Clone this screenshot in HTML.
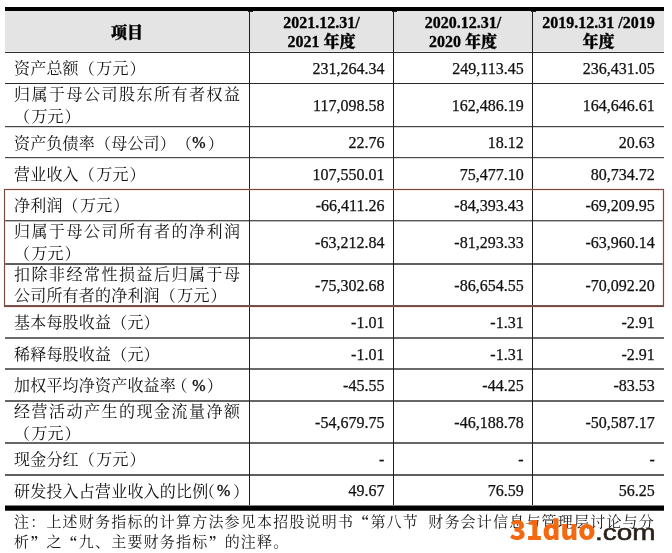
<!DOCTYPE html>
<html lang="zh-CN">
<head>
<meta charset="utf-8">
<style>
html,body{margin:0;padding:0;background:#fff;}
body{width:672px;height:553px;position:relative;overflow:hidden;text-spacing-trim:space-all;
  font-family:"Liberation Serif","Noto Serif CJK SC",serif;color:#111;}
div{position:absolute;}
.t{white-space:nowrap;font-size:16px;line-height:21.5px;}
.c{left:14px;letter-spacing:0.2px;}
.n{text-align:right;width:130px;-webkit-text-stroke:0.25px #111;}
.h{font-weight:900;font-size:16px;line-height:19.6px;text-align:center;white-space:nowrap;-webkit-text-stroke:0.3px #000;color:#000;}
.j{letter-spacing:1.5px;}
.note{left:14px;font-size:15px;line-height:19.5px;white-space:nowrap;color:#1a1a1a;}
.q{font-family:"Noto Serif CJK SC",serif;font-feature-settings:"fwid" 1;position:relative;top:1.5px;font-weight:bold;}
.pc{position:relative;top:-0.8px;-webkit-text-stroke:0.35px #111;}
.wm{font-family:"Liberation Sans",sans-serif;font-weight:bold;white-space:nowrap;}
</style>
</head>
<body>

<div style="left:5px;top:11px;width:659px;height:40px;background:#e4e4e4;"></div>
<div style="left:5px;top:51px;width:659px;height:1px;background:#efefef;"></div>
<div style="left:5px;top:7px;width:659px;height:4px;background:#000;"></div>
<div style="left:5px;top:505px;width:659px;height:1px;background:#808080;"></div>
<div style="left:5px;top:506px;width:659px;height:4px;background:#000;"></div>
<div style="left:5px;top:510px;width:659px;height:1px;background:#404040;"></div>
<div style="left:5px;top:52px;width:659px;height:1px;background:#2c2c2c;"></div>
<div style="left:5px;top:83px;width:659px;height:1px;background:#2a2a2a;"></div>
<div style="left:5px;top:126px;width:659px;height:1px;background:#444;"></div>
<div style="left:5px;top:127px;width:659px;height:1px;background:#d8d8d8;"></div>
<div style="left:5px;top:157px;width:659px;height:1px;background:#4a4a4a;"></div>
<div style="left:5px;top:158px;width:659px;height:1px;background:#d8d8d8;"></div>
<div style="left:5px;top:220px;width:659px;height:1px;background:#555;"></div>
<div style="left:5px;top:221px;width:659px;height:1px;background:#bbb;"></div>
<div style="left:5px;top:263px;width:659px;height:2px;background:#5e5e5e;"></div>
<div style="left:5px;top:337px;width:659px;height:2px;background:#6b6b6b;"></div>
<div style="left:5px;top:368px;width:659px;height:2px;background:#6a6a6a;"></div>
<div style="left:5px;top:400px;width:659px;height:2px;background:#666;"></div>
<div style="left:5px;top:442px;width:659px;height:2px;background:#666;"></div>
<div style="left:5px;top:474px;width:659px;height:2px;background:#5e5e5e;"></div>
<div style="left:249px;top:11px;width:1px;height:494px;background:#1e1e1e;"></div>
<div style="left:393px;top:11px;width:1px;height:494px;background:#1e1e1e;"></div>
<div style="left:532px;top:11px;width:1px;height:494px;background:#1e1e1e;"></div>
<div style="left:248px;top:11px;width:5px;height:1px;background:#222;"></div>
<div style="left:392px;top:11px;width:5px;height:1px;background:#222;"></div>
<div style="left:531px;top:11px;width:5px;height:1px;background:#222;"></div>
<div style="left:4px;top:188px;width:660px;height:1px;background:rgba(235,170,150,0.25);"></div>
<div style="left:4px;top:189px;width:660px;height:1px;background:#7a4a45;"></div>
<div style="left:5px;top:190px;width:658px;height:1px;background:rgba(220,150,135,0.22);"></div>
<div style="left:4px;top:305px;width:660px;height:1px;background:#6e5453;"></div>
<div style="left:4px;top:306px;width:660px;height:1px;background:#7c463f;"></div>
<div style="left:4px;top:307px;width:660px;height:1px;background:rgba(235,170,150,0.22);"></div>
<div style="left:4px;top:189px;width:1px;height:118px;background:#7a4a45;"></div>
<div style="left:663px;top:189px;width:1px;height:118px;background:#7a4a45;"></div>
<div style="left:5px;top:191px;width:1px;height:114px;background:rgba(230,160,150,0.25);"></div>
<div style="left:662px;top:191px;width:1px;height:114px;background:rgba(230,160,150,0.25);"></div>
<div style="left:3px;top:189px;width:1px;height:118px;background:rgba(230,170,160,0.2);"></div>
<div style="left:664px;top:189px;width:1px;height:118px;background:rgba(230,170,160,0.2);"></div>
<div class="h" style="left:5px;width:244px;top:23px;">项目</div>
<div class="h" style="left:250px;width:143px;top:12.5px;">2021.12.31/<br>2021 年度</div>
<div class="h" style="left:394px;width:138px;top:12.5px;">2020.12.31/<br>2020 年度</div>
<div class="h" style="left:533px;width:131px;top:12.5px;">2019.12.31 /2019<br>年度</div>
<div class="t c" style="top:58.40px;">资产总额（<span style="position:relative;left:1.2px">万元</span><span style="position:relative;left:2px">）</span></div>
<div class="t n" style="left:254.40px;top:58.20px;">231,264.34</div>
<div class="t n" style="left:393.70px;top:58.20px;">249,113.45</div>
<div class="t n" style="left:524.80px;top:58.20px;">236,431.05</div>
<div class="t c" style="top:84.30px;"><span class="j">归属于母公司股东所有者权</span>益<br>（<span style="position:relative;left:1.2px">万元</span><span style="position:relative;left:2px">）</span></div>
<div class="t n" style="left:254.40px;top:95.25px;">117,098.58</div>
<div class="t n" style="left:393.70px;top:95.25px;">162,486.19</div>
<div class="t n" style="left:524.80px;top:95.25px;">164,646.61</div>
<div class="t c" style="top:132.50px;">资产负债率（母公司）（<span class="pc">%</span><span style="position:relative;left:2px">）</span></div>
<div class="t n" style="left:254.40px;top:132.30px;">22.76</div>
<div class="t n" style="left:393.70px;top:132.30px;">18.12</div>
<div class="t n" style="left:524.80px;top:132.30px;">20.63</div>
<div class="t c" style="top:163.95px;">营业收入（<span style="position:relative;left:1.2px">万元</span><span style="position:relative;left:2px">）</span></div>
<div class="t n" style="left:254.40px;top:163.75px;">107,550.01</div>
<div class="t n" style="left:393.70px;top:163.75px;">75,477.10</div>
<div class="t n" style="left:524.80px;top:163.75px;">80,734.72</div>
<div class="t c" style="top:195.45px;">净利润（<span style="position:relative;left:1.2px">万元</span><span style="position:relative;left:2px">）</span></div>
<div class="t n" style="left:254.40px;top:195.25px;">-66,411.26</div>
<div class="t n" style="left:393.70px;top:195.25px;">-84,393.43</div>
<div class="t n" style="left:524.80px;top:195.25px;">-69,209.95</div>
<div class="t c" style="top:221.43px;"><span class="j">归属于母公司所有者的净利</span>润<br>（<span style="position:relative;left:1.2px">万元</span><span style="position:relative;left:2px">）</span></div>
<div class="t n" style="left:254.40px;top:232.38px;">-63,212.84</div>
<div class="t n" style="left:393.70px;top:232.38px;">-81,293.33</div>
<div class="t n" style="left:524.80px;top:232.38px;">-63,960.14</div>
<div class="t c" style="top:263.93px;"><span class="j">扣除非经常性损益后归属于</span>母<br>公司所有者的净利润（<span style="position:relative;left:1.2px">万元</span><span style="position:relative;left:2px">）</span></div>
<div class="t n" style="left:254.40px;top:274.88px;">-75,302.68</div>
<div class="t n" style="left:393.70px;top:274.88px;">-86,654.55</div>
<div class="t n" style="left:524.80px;top:274.88px;">-70,092.20</div>
<div class="t c" style="top:312.20px;">基本每股收益（元）</div>
<div class="t n" style="left:254.40px;top:312.00px;">-1.01</div>
<div class="t n" style="left:393.70px;top:312.00px;">-1.31</div>
<div class="t n" style="left:524.80px;top:312.00px;">-2.91</div>
<div class="t c" style="top:343.90px;">稀释每股收益（元）</div>
<div class="t n" style="left:254.40px;top:343.70px;">-1.01</div>
<div class="t n" style="left:393.70px;top:343.70px;">-1.31</div>
<div class="t n" style="left:524.80px;top:343.70px;">-2.91</div>
<div class="t c" style="top:375.35px;">加权平均净资产收益率<span style="position:relative;left:-4.5px">（</span><span class="pc">%</span><span style="position:relative;left:1px">）</span></div>
<div class="t n" style="left:254.40px;top:375.15px;">-45.55</div>
<div class="t n" style="left:393.70px;top:375.15px;">-44.25</div>
<div class="t n" style="left:524.80px;top:375.15px;">-83.53</div>
<div class="t c" style="top:401.20px;"><span class="j">经营活动产生的现金流量净</span>额<br>（<span style="position:relative;left:1.2px">万元</span><span style="position:relative;left:2px">）</span></div>
<div class="t n" style="left:254.40px;top:412.15px;">-54,679.75</div>
<div class="t n" style="left:393.70px;top:412.15px;">-46,188.78</div>
<div class="t n" style="left:524.80px;top:412.15px;">-50,587.17</div>
<div class="t c" style="top:449.40px;">现金分红（<span style="position:relative;left:1.2px">万元</span><span style="position:relative;left:2px">）</span></div>
<div class="t n" style="left:254.40px;top:449.20px;">-</div>
<div class="t n" style="left:393.70px;top:449.20px;">-</div>
<div class="t n" style="left:524.80px;top:449.20px;">-</div>
<div class="t c" style="top:480.65px;">研发投入占营业收入的比例<span style="position:relative;left:-9.5px">（</span><span class="pc" style="left:-7.5px">%</span><span style="position:relative;left:-5.2px">）</span></div>
<div class="t n" style="left:254.40px;top:480.45px;">49.67</div>
<div class="t n" style="left:393.70px;top:480.45px;">76.59</div>
<div class="t n" style="left:524.80px;top:480.45px;">56.25</div>
<div class="note" style="top:510.5px;letter-spacing:1.2px;">注：上述财务指标的计算方法参见本招股说明书<span class="q">“</span>第八节<span style="display:inline-block;width:9.2px"></span>财务会计信息与管理层讨论与分</div>
<div class="note" style="top:531px;letter-spacing:1.2px;">析<span class="q">”</span>之<span class="q">“</span>九、主要财务指标<span class="q">”</span>的注释。</div>
<div style="left:509.4px;top:508.3px;font-family:'Noto Sans CJK SC',sans-serif;font-weight:900;font-size:27.2px;line-height:40.8px;white-space:nowrap;color:#f4690f;">31duo</div>
<div style="left:595.1px;top:516.6px;font-family:'Liberation Sans',sans-serif;font-size:21.8px;line-height:32.7px;white-space:nowrap;color:#2a2019;-webkit-text-stroke:0.5px #2a2019;transform:scaleX(1.28);transform-origin:0 0;">.com</div>
</body>
</html>
